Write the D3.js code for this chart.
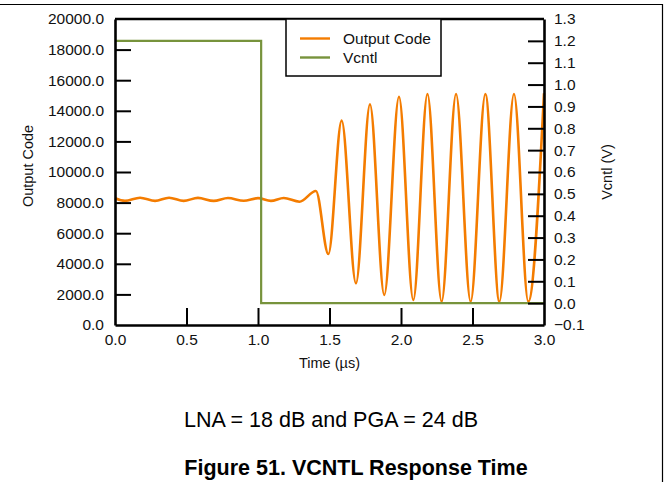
<!DOCTYPE html>
<html>
<head>
<meta charset="utf-8">
<script src="https://cdn.jsdelivr.net/npm/d3@7"></script>
<style>
  body { margin: 0; background: #ffffff; }
  svg { display: block; font-family: Arial, "Liberation Sans", sans-serif; }
</style>
</head>
<body>
<script>
// data
var codeTime = [0, 0.07, 0.175, 0.28, 0.378, 0.48, 0.58, 0.69, 0.79, 0.90, 1.0, 1.09, 1.18, 1.29,
                1.405, 1.492, 1.585, 1.685, 1.783, 1.883, 1.986, 2.086, 2.185, 2.284, 2.385,
                2.487, 2.59, 2.688, 2.79, 2.89, 3.0];
var codeValue = [8280, 8110, 8320, 8110, 8320, 8110, 8310, 8110, 8300, 8120, 8290, 8110, 8300, 8060,
                 8760, 4640, 13360, 2725, 14420, 1960, 14920, 1630, 15100, 1525, 15100,
                 1525, 15100, 1525, 15100, 1525, 15150];
var vcntlTime = [0, 1.022, 1.022, 3.0];
var vcntlValue = [1.2, 1.2, 0, 0];
var xTicks = [0, 0.5, 1.0, 1.5, 2.0, 2.5, 3.0];
var codeTicks = [0, 2000, 4000, 6000, 8000, 10000, 12000, 14000, 16000, 18000, 20000];
var voltTicks = [-0.1, 0, 0.1, 0.2, 0.3, 0.4, 0.5, 0.6, 0.7, 0.8, 0.9, 1.0, 1.1, 1.2, 1.3];
var seriesNames = ["Output Code", "Vcntl"];
var seriesColors = ["#f47c00", "#77933c"];

var W = 665, H = 482;
var margin = {top: 19, right: 121, bottom: 157, left: 115},
    width = W - margin.left - margin.right,
    height = H - margin.top - margin.bottom;

var x = d3.scaleLinear().domain([0, 3]).range([0, width]);
var yCode = d3.scaleLinear().domain([0, 20000]).range([height, 0]);
var yVolt = d3.scaleLinear().domain([-0.1, 1.3]).range([height, 0]);

var svgRoot = d3.select("body").append("svg")
    .attr("width", W)
    .attr("height", H);

svgRoot.append("rect").attr("width", W).attr("height", H).attr("fill", "#ffffff");

// outer frame (top and right sides only visible)
svgRoot.append("path")
    .attr("d", "M0,4.5H662.5V" + H)
    .attr("fill", "none")
    .attr("stroke", "#000")
    .attr("stroke-width", 1.2);

var svg = svgRoot.append("g")
    .attr("transform", "translate(" + margin.left + "," + margin.top + ")");

// series
var codeData = codeTime.map(function(t, i) { return [t, codeValue[i]]; });
var voltData = vcntlTime.map(function(t, i) { return [t, vcntlValue[i]]; });

svg.append("path")
    .datum(codeData)
    .attr("fill", "none")
    .attr("stroke", seriesColors[0])
    .attr("stroke-width", 2.6)
    .attr("stroke-linejoin", "round")
    .attr("d", d3.line()
        .curve(d3.curveMonotoneX)
        .x(function(d) { return x(d[0]); })
        .y(function(d) { return yCode(d[1]); }));

svg.append("path")
    .datum(voltData)
    .attr("fill", "none")
    .attr("stroke", seriesColors[1])
    .attr("stroke-width", 2.2)
    .attr("d", d3.line()
        .x(function(d) { return x(d[0]); })
        .y(function(d) { return yVolt(d[1]); }));

// axes (ticks point inward)
function styleAxis(g, ends) {
  g.select(".domain").attr("stroke-width", 2.6);
  g.selectAll(".tick line").attr("stroke-width", 2);
  g.selectAll(".tick text")
    .attr("font-family", "Arial, 'Liberation Sans', sans-serif")
    .attr("font-size", "15.5px")
    .attr("fill", "#111");
  g.selectAll(".tick line")
    .filter(function(d) { return ends.indexOf(d) >= 0; })
    .remove();
}

svg.append("g")
    .call(d3.axisLeft(yCode).tickValues(codeTicks).tickFormat(d3.format(".1f"))
      .tickSize(-16).tickSizeOuter(0).tickPadding(11))
    .call(styleAxis, [0, 20000]);

svg.append("g")
    .attr("transform", "translate(" + width + ",0)")
    .call(d3.axisRight(yVolt).tickValues(voltTicks).tickFormat(d3.format(".1f"))
      .tickSize(-16).tickSizeOuter(0).tickPadding(10))
    .call(styleAxis, [-0.1, 1.3]);

svg.append("g")
    .attr("transform", "translate(0," + height + ")")
    .call(d3.axisBottom(x).tickValues(xTicks).tickFormat(d3.format(".1f"))
      .tickSize(-17).tickSizeOuter(0).tickPadding(9))
    .call(styleAxis, [0, 3]);

// top edge of plot
svg.append("line")
    .attr("x1", 0).attr("x2", width)
    .attr("y1", 0).attr("y2", 0)
    .attr("stroke", "#000")
    .attr("stroke-width", 2.6);

// legend
var legend = svg.append("g").attr("transform", "translate(" + (286 - margin.left) + ",0)");
legend.append("rect")
    .attr("width", 155).attr("height", 57)
    .attr("fill", "#fff")
    .attr("stroke", "#000")
    .attr("stroke-width", 1.5);
seriesNames.forEach(function(name, i) {
  var ly = 19.5 + i * 19;
  legend.append("line")
      .attr("x1", 14).attr("x2", 44)
      .attr("y1", ly).attr("y2", ly)
      .attr("stroke", seriesColors[i])
      .attr("stroke-width", 2.4);
  legend.append("text")
      .attr("x", 57).attr("y", ly)
      .attr("dy", "0.35em")
      .attr("font-size", "15.5px")
      .attr("fill", "#111")
      .text(name);
});

// axis titles
svg.append("text")
    .attr("x", width / 2)
    .attr("y", height + 43)
    .attr("text-anchor", "middle")
    .attr("font-size", "14.5px")
    .attr("fill", "#111")
    .text("Time (µs)");

svg.append("text")
    .attr("transform", "translate(" + (33 - margin.left) + "," + (166 - margin.top) + ") rotate(-90)")
    .attr("text-anchor", "middle")
    .attr("font-size", "14.5px")
    .attr("fill", "#111")
    .text("Output Code");

svg.append("text")
    .attr("transform", "translate(" + (612 - margin.left) + "," + (172 - margin.top) + ") rotate(-90)")
    .attr("text-anchor", "middle")
    .attr("font-size", "14.5px")
    .attr("fill", "#111")
    .text("Vcntl (V)");

// conditions and caption
svgRoot.append("text")
    .attr("x", 331).attr("y", 427)
    .attr("text-anchor", "middle")
    .attr("font-size", "21.5px")
    .attr("fill", "#000")
    .text("LNA = 18 dB and PGA = 24 dB");

svgRoot.append("text")
    .attr("x", 356).attr("y", 475)
    .attr("text-anchor", "middle")
    .attr("font-size", "21.5px")
    .attr("font-weight", "bold")
    .attr("fill", "#000")
    .text("Figure 51. VCNTL Response Time");
</script>
</body>
</html>
